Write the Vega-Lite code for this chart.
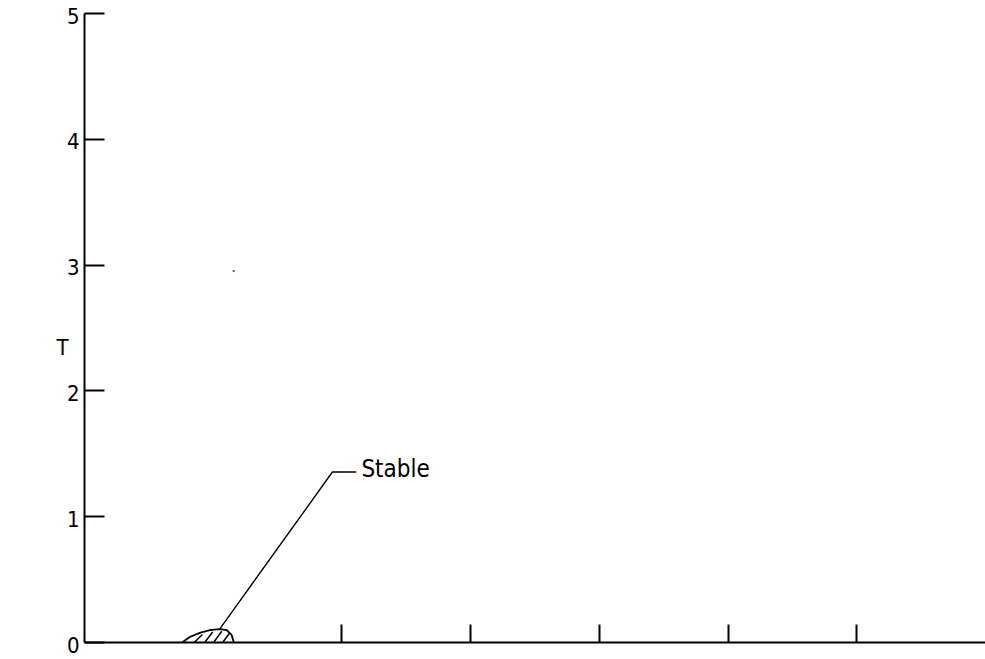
{
  "$schema": "https://vega.github.io/schema/vega-lite/v6.json",
  "autosize": "none",
  "width": 901,
  "height": 629,
  "padding": {"left": 84, "top": 13, "right": 0, "bottom": 17},
  "background": "white",
  "config": {
    "view": {"stroke": null},
    "axis": {
      "domainColor": "black",
      "domainWidth": 2,
      "tickColor": "black",
      "tickWidth": 2,
      "grid": false,
      "labelFont": "DejaVu Sans Condensed, sans-serif",
      "labelFontSize": 22,
      "labelColor": "black",
      "titleFont": "DejaVu Sans Condensed, sans-serif",
      "titleFontWeight": "normal",
      "titleColor": "black"
    }
  },
  "datasets": {
    "region": [
      {"x": 0.767, "y": 0},
      {"x": 0.822, "y": 0.04},
      {"x": 0.899, "y": 0.072},
      {"x": 0.977, "y": 0.095},
      {"x": 1.054, "y": 0.103},
      {"x": 1.109, "y": 0.095},
      {"x": 1.147, "y": 0.056},
      {"x": 1.163, "y": 0}
    ],
    "hatch": [
      {"x": 0.86, "y": 0, "x2": 0.92, "y2": 0.06},
      {"x": 0.94, "y": 0, "x2": 1.0, "y2": 0.08},
      {"x": 1.01, "y": 0, "x2": 1.07, "y2": 0.085},
      {"x": 1.08, "y": 0, "x2": 1.13, "y2": 0.07}
    ],
    "leader": [
      {"x": 1.054, "y": 0.103, "o": 1},
      {"x": 1.93, "y": 1.351, "o": 2},
      {"x": 2.116, "y": 1.351, "o": 3}
    ],
    "label": [{"x": 2.155, "y": 1.367, "text": "Stable"}],
    "speck": [{"x": 1.163, "y": 2.949}]
  },
  "layer": [
    {
      "data": {"name": "region"},
      "mark": {"type": "line", "color": "black", "strokeWidth": 1.8},
      "encoding": {
        "x": {
          "field": "x", "type": "quantitative",
          "scale": {"domain": [0, 7], "nice": false, "zero": false},
          "axis": {"values": [2, 3, 4, 5, 6], "labels": false, "tickSize": -18, "title": null}
        },
        "y": {
          "field": "y", "type": "quantitative",
          "scale": {"domain": [0, 5], "nice": false},
          "axis": {
            "values": [0, 1, 2, 3, 4, 5], "format": "d", "tickSize": -20, "labelPadding": 25, "labelOffset": 3,
            "title": "T", "titleAngle": 0, "titleFontSize": 22,
            "titleX": -22, "titleY": 334, "titleAlign": "center", "titleBaseline": "middle"
          }
        }
      }
    },
    {
      "data": {"name": "hatch"},
      "mark": {"type": "rule", "color": "black", "strokeWidth": 1.5},
      "encoding": {
        "x": {"field": "x", "type": "quantitative"},
        "y": {"field": "y", "type": "quantitative"},
        "x2": {"field": "x2"},
        "y2": {"field": "y2"}
      }
    },
    {
      "data": {"name": "leader"},
      "mark": {"type": "line", "color": "black", "strokeWidth": 1.4},
      "encoding": {
        "x": {"field": "x", "type": "quantitative"},
        "y": {"field": "y", "type": "quantitative"},
        "order": {"field": "o"}
      }
    },
    {
      "data": {"name": "label"},
      "mark": {"type": "text", "align": "left", "baseline": "middle", "fontSize": 24, "font": "DejaVu Sans Condensed, sans-serif", "color": "black"},
      "encoding": {
        "x": {"field": "x", "type": "quantitative"},
        "y": {"field": "y", "type": "quantitative"},
        "text": {"field": "text"}
      }
    },
    {
      "data": {"name": "speck"},
      "mark": {"type": "point", "filled": true, "color": "black", "size": 5},
      "encoding": {
        "x": {"field": "x", "type": "quantitative"},
        "y": {"field": "y", "type": "quantitative"}
      }
    }
  ]
}
